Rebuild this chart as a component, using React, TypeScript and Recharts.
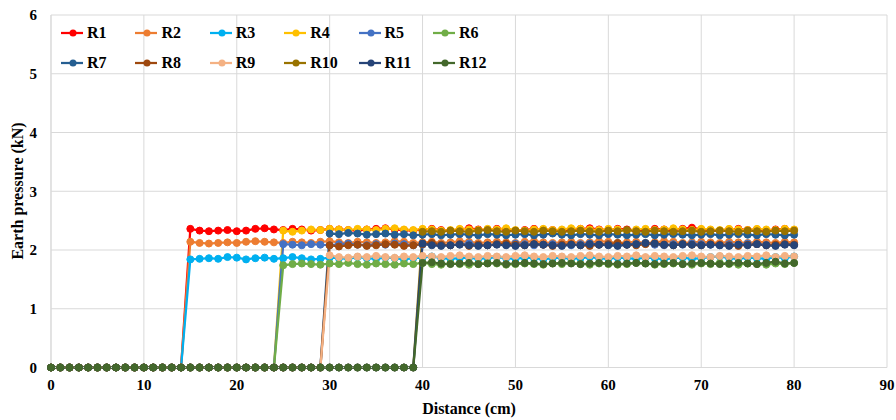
import { CartesianGrid, Legend, Line, LineChart, XAxis, YAxis } from "recharts";

const FONT = '"Liberation Serif", "Times New Roman", Tinos, "DejaVu Serif", "Noto Serif", serif';

// distance along the model (cm), one reading per cm
const distance = [
  0, 1, 2, 3, 4, 5, 6, 7, 8, 9,
  10, 11, 12, 13, 14, 15, 16, 17, 18, 19,
  20, 21, 22, 23, 24, 25, 26, 27, 28, 29,
  30, 31, 32, 33, 34, 35, 36, 37, 38, 39,
  40, 41, 42, 43, 44, 45, 46, 47, 48, 49,
  50, 51, 52, 53, 54, 55, 56, 57, 58, 59,
  60, 61, 62, 63, 64, 65, 66, 67, 68, 69,
  70, 71, 72, 73, 74, 75, 76, 77, 78, 79,
  80,
];

const r1 = [
  0, 0, 0, 0, 0, 0, 0, 0, 0, 0, 0, 0, 0, 0, 0,
  2.36, 2.33, 2.32, 2.33, 2.34, 2.32, 2.33, 2.36, 2.37, 2.35,
  2.34, 2.36, 2.35, 2.33, 2.34, 2.36, 2.35, 2.34, 2.33, 2.35,
  2.36, 2.37, 2.35, 2.34, 2.33, 2.35, 2.36, 2.34, 2.33, 2.35,
  2.37, 2.35, 2.34, 2.36, 2.35, 2.33, 2.34, 2.36, 2.35, 2.34,
  2.33, 2.35, 2.36, 2.37, 2.35, 2.34, 2.36, 2.35, 2.33, 2.34,
  2.36, 2.35, 2.34, 2.36, 2.38, 2.35, 2.34, 2.33, 2.35, 2.36,
  2.34, 2.35, 2.33, 2.35, 2.36, 2.34,
];
const r2 = [
  0, 0, 0, 0, 0, 0, 0, 0, 0, 0, 0, 0, 0, 0, 0,
  2.14, 2.12, 2.11, 2.12, 2.13, 2.12, 2.14, 2.15, 2.14, 2.13,
  2.12, 2.14, 2.13, 2.12, 2.14, 2.15, 2.13, 2.12, 2.14, 2.13,
  2.12, 2.13, 2.15, 2.14, 2.12, 2.13, 2.14, 2.12, 2.13, 2.15,
  2.14, 2.12, 2.13, 2.14, 2.13, 2.12, 2.14, 2.15, 2.13, 2.12,
  2.13, 2.14, 2.12, 2.13, 2.15, 2.14, 2.12, 2.13, 2.14, 2.12,
  2.13, 2.15, 2.14, 2.12, 2.13, 2.14, 2.13, 2.12, 2.14, 2.13,
  2.12, 2.14, 2.13, 2.12, 2.14, 2.13,
];
const r3 = [
  0, 0, 0, 0, 0, 0, 0, 0, 0, 0, 0, 0, 0, 0, 0,
  1.84, 1.85, 1.86, 1.85, 1.88, 1.87, 1.84, 1.86, 1.87, 1.85,
  1.86, 1.88, 1.86, 1.84, 1.85, 1.87, 1.86, 1.85, 1.88, 1.86,
  1.85, 1.87, 1.86, 1.84, 1.86, 1.87, 1.89, 1.86, 1.85, 1.86,
  1.87, 1.85, 1.86, 1.88, 1.86, 1.85, 1.87, 1.86, 1.84, 1.86,
  1.87, 1.85, 1.86, 1.88, 1.86, 1.85, 1.87, 1.86, 1.85, 1.87,
  1.86, 1.84, 1.86, 1.87, 1.85, 1.86, 1.88, 1.89, 1.86, 1.85,
  1.87, 1.86, 1.85, 1.88, 1.86, 1.89,
];
const r4 = [
  0, 0, 0, 0, 0, 0, 0, 0, 0, 0, 0, 0, 0, 0, 0, 0, 0, 0, 0, 0, 0, 0, 0, 0, 0,
  2.33, 2.31, 2.33, 2.35, 2.34, 2.36, 2.35, 2.34, 2.36, 2.35,
  2.34, 2.36, 2.37, 2.35, 2.34, 2.36, 2.35, 2.33, 2.34, 2.36,
  2.35, 2.34, 2.36, 2.35, 2.37, 2.34, 2.33, 2.35, 2.36, 2.34,
  2.35, 2.37, 2.36, 2.35, 2.34, 2.36, 2.35, 2.33, 2.35, 2.36,
  2.34, 2.35, 2.37, 2.35, 2.34, 2.36, 2.35, 2.34, 2.36, 2.35,
  2.34, 2.36, 2.35, 2.34, 2.36, 2.35,
];
const r5 = [
  0, 0, 0, 0, 0, 0, 0, 0, 0, 0, 0, 0, 0, 0, 0, 0, 0, 0, 0, 0, 0, 0, 0, 0, 0,
  2.1, 2.09, 2.08, 2.1, 2.09, 2.08, 2.1, 2.11, 2.09, 2.08,
  2.1, 2.09, 2.11, 2.1, 2.08, 2.09, 2.1, 2.09, 2.08, 2.1,
  2.11, 2.09, 2.08, 2.1, 2.09, 2.11, 2.1, 2.08, 2.09, 2.1,
  2.09, 2.08, 2.1, 2.11, 2.09, 2.1, 2.08, 2.09, 2.1, 2.11,
  2.09, 2.08, 2.1, 2.09, 2.11, 2.1, 2.09, 2.08, 2.1, 2.09,
  2.11, 2.1, 2.09, 2.08, 2.1, 2.09,
];
const r6 = [
  0, 0, 0, 0, 0, 0, 0, 0, 0, 0, 0, 0, 0, 0, 0, 0, 0, 0, 0, 0, 0, 0, 0, 0, 0,
  1.74, 1.76, 1.77, 1.76, 1.75, 1.77, 1.76, 1.78, 1.76, 1.75,
  1.77, 1.76, 1.75, 1.77, 1.76, 1.78, 1.76, 1.75, 1.77, 1.76,
  1.75, 1.76, 1.78, 1.77, 1.75, 1.76, 1.77, 1.76, 1.75, 1.77,
  1.76, 1.78, 1.76, 1.75, 1.77, 1.76, 1.75, 1.76, 1.78, 1.77,
  1.75, 1.76, 1.77, 1.76, 1.75, 1.77, 1.76, 1.78, 1.76, 1.75,
  1.77, 1.76, 1.75, 1.77, 1.76, 1.78,
];
const r7 = [
  0, 0, 0, 0, 0, 0, 0, 0, 0, 0, 0, 0, 0, 0, 0,
  0, 0, 0, 0, 0, 0, 0, 0, 0, 0, 0, 0, 0, 0, 0,
  2.28, 2.27, 2.29, 2.28, 2.26, 2.27, 2.28, 2.26, 2.27, 2.25,
  2.26, 2.27, 2.25, 2.26, 2.27, 2.26, 2.25, 2.27, 2.26, 2.25,
  2.26, 2.27, 2.25, 2.26, 2.28, 2.26, 2.25, 2.27, 2.26, 2.25,
  2.27, 2.26, 2.25, 2.26, 2.27, 2.25, 2.26, 2.27, 2.26, 2.25,
  2.26, 2.27, 2.25, 2.26, 2.27, 2.26, 2.25, 2.27, 2.26, 2.25,
  2.26,
];
const r8 = [
  0, 0, 0, 0, 0, 0, 0, 0, 0, 0, 0, 0, 0, 0, 0,
  0, 0, 0, 0, 0, 0, 0, 0, 0, 0, 0, 0, 0, 0, 0,
  2.08, 2.06, 2.08, 2.09, 2.07, 2.08, 2.1, 2.09, 2.07, 2.08,
  2.1, 2.12, 2.09, 2.08, 2.1, 2.07, 2.09, 2.08, 2.1, 2.11,
  2.09, 2.08, 2.1, 2.09, 2.07, 2.09, 2.1, 2.08, 2.07, 2.09,
  2.1, 2.12, 2.09, 2.08, 2.1, 2.11, 2.09, 2.08, 2.1, 2.09,
  2.08, 2.1, 2.09, 2.08, 2.07, 2.09, 2.1, 2.08, 2.09, 2.1,
  2.09,
];
const r9 = [
  0, 0, 0, 0, 0, 0, 0, 0, 0, 0, 0, 0, 0, 0, 0,
  0, 0, 0, 0, 0, 0, 0, 0, 0, 0, 0, 0, 0, 0, 0,
  1.91, 1.88, 1.87, 1.89, 1.88, 1.9, 1.88, 1.87, 1.89, 1.88,
  1.9, 1.89, 1.88, 1.9, 1.91, 1.89, 1.88, 1.9, 1.89, 1.88,
  1.9, 1.91, 1.89, 1.88, 1.9, 1.89, 1.88, 1.9, 1.91, 1.89,
  1.88, 1.9, 1.89, 1.91, 1.88, 1.9, 1.89, 1.88, 1.9, 1.91,
  1.89, 1.88, 1.9, 1.89, 1.88, 1.9, 1.89, 1.91, 1.88, 1.9,
  1.89,
];
const r10 = [
  0, 0, 0, 0, 0, 0, 0, 0, 0, 0, 0, 0, 0, 0, 0, 0, 0, 0, 0, 0,
  0, 0, 0, 0, 0, 0, 0, 0, 0, 0, 0, 0, 0, 0, 0, 0, 0, 0, 0, 0,
  2.31, 2.32, 2.31, 2.33, 2.32, 2.31, 2.33, 2.34, 2.32, 2.31,
  2.33, 2.32, 2.31, 2.33, 2.32, 2.31, 2.32, 2.33, 2.32, 2.31,
  2.33, 2.32, 2.34, 2.32, 2.31, 2.33, 2.32, 2.31, 2.32, 2.33,
  2.31, 2.32, 2.33, 2.32, 2.31, 2.33, 2.32, 2.31, 2.33, 2.32,
  2.33,
];
const r11 = [
  0, 0, 0, 0, 0, 0, 0, 0, 0, 0, 0, 0, 0, 0, 0, 0, 0, 0, 0, 0,
  0, 0, 0, 0, 0, 0, 0, 0, 0, 0, 0, 0, 0, 0, 0, 0, 0, 0, 0, 0,
  2.11, 2.08, 2.07, 2.08, 2.09, 2.08, 2.07, 2.08, 2.09, 2.08,
  2.07, 2.08, 2.1, 2.09, 2.08, 2.07, 2.09, 2.08, 2.1, 2.09,
  2.08, 2.07, 2.09, 2.1, 2.12, 2.11, 2.09, 2.08, 2.1, 2.09,
  2.08, 2.09, 2.08, 2.07, 2.09, 2.08, 2.1, 2.08, 2.07, 2.09,
  2.08,
];
const r12 = [
  0, 0, 0, 0, 0, 0, 0, 0, 0, 0, 0, 0, 0, 0, 0, 0, 0, 0, 0, 0,
  0, 0, 0, 0, 0, 0, 0, 0, 0, 0, 0, 0, 0, 0, 0, 0, 0, 0, 0, 0,
  1.78, 1.79, 1.77, 1.76, 1.77, 1.78, 1.76, 1.77, 1.78, 1.76,
  1.77, 1.78, 1.77, 1.76, 1.77, 1.78, 1.77, 1.76, 1.77, 1.78,
  1.77, 1.76, 1.77, 1.78, 1.77, 1.76, 1.77, 1.78, 1.76, 1.77,
  1.78, 1.77, 1.76, 1.77, 1.78, 1.77, 1.76, 1.78, 1.8, 1.77,
  1.78,
];

const seriesNames = ["R1", "R2", "R3", "R4", "R5", "R6", "R7", "R8", "R9", "R10", "R11", "R12"];
const seriesValues = [r1, r2, r3, r4, r5, r6, r7, r8, r9, r10, r11, r12];
const seriesColors = [
  "#FF0000", "#ED7D31", "#00B0F0", "#FFC000", "#4472C4", "#70AD47",
  "#255E91", "#9E480E", "#F4B183", "#997300", "#264478", "#43682B",
];

const xTicks = [0, 10, 20, 30, 40, 50, 60, 70, 80, 90];
const yTicks = [0, 1, 2, 3, 4, 5, 6];

const data = distance.map((d, i) => {
  const row: Record<string, number> = { d };
  seriesNames.forEach((name, s) => {
    row[name] = seriesValues[s][i];
  });
  return row;
});

function renderLegend() {
  return (
    <div style={{ display: "flex", flexWrap: "wrap", width: 450 }}>
      {seriesNames.map((name, i) => (
        <div
          key={name}
          style={{ width: 74.4, height: 30, display: "flex", alignItems: "center" }}
        >
          <svg width={22} height={10} style={{ display: "block" }}>
            <line x1={0} y1={5} x2={22} y2={5} stroke={seriesColors[i]} strokeWidth={2.25} />
            <circle cx={12} cy={5} r={3.5} fill={seriesColors[i]} />
          </svg>
          <span
            style={{
              marginLeft: 4,
              fontFamily: FONT,
              fontWeight: "bold",
              fontSize: 16,
              color: "#000",
            }}
          >
            {name}
          </span>
        </div>
      ))}
    </div>
  );
}

const tickStyle = { fontFamily: FONT, fontWeight: "bold" as const, fontSize: 15, fill: "#000" };

export default function App() {
  return (
    <div style={{ position: "absolute", left: 0, top: 0, width: 896, height: 420, background: "#fff", fontFamily: FONT }}>
      <LineChart
        width={896}
        height={420}
        data={data}
        margin={{ top: 15, right: 9, bottom: 0, left: 0 }}
        style={{ fontFamily: FONT }}
      >
        <CartesianGrid stroke="#D9D9D9" strokeWidth={1} />
        <XAxis
          dataKey="d"
          type="number"
          domain={[0, 90]}
          ticks={xTicks}
          interval={0}
          height={52.5}
          tickLine={false}
          tickMargin={6}
          axisLine={{ stroke: "#D9D9D9" }}
          tick={tickStyle}
          label={{
            content: () => (
              <text
                x={469}
                y={408}
                textAnchor="middle"
                dominantBaseline="central"
                fontFamily={FONT}
                fontWeight="bold"
                fontSize={16}
                fill="#000"
              >
                Distance (cm)
              </text>
            ),
          }}
        />
        <YAxis
          type="number"
          domain={[0, 6]}
          ticks={yTicks}
          interval={0}
          width={51}
          tickLine={false}
          tickMargin={8}
          axisLine={{ stroke: "#D9D9D9" }}
          tick={tickStyle}
          label={{
            content: () => (
              <text
                x={17}
                y={191}
                transform="rotate(-90, 17, 191)"
                textAnchor="middle"
                dominantBaseline="central"
                fontFamily={FONT}
                fontWeight="bold"
                fontSize={16}
                fill="#000"
              >
                Earth pressure (kN)
              </text>
            ),
          }}
        />
        <Legend
          layout="horizontal"
          verticalAlign="middle"
          align="center"
          content={renderLegend}
          wrapperStyle={{ left: 61, top: 18, width: 450, height: 60 }}
        />
        {seriesNames.map((name, i) => (
          <Line
            key={name}
            dataKey={name}
            type="linear"
            stroke={seriesColors[i]}
            strokeWidth={2.25}
            dot={{ r: 3.5, fill: seriesColors[i], stroke: seriesColors[i], strokeWidth: 1 }}
            isAnimationActive={false}
          />
        ))}
      </LineChart>
    </div>
  );
}
